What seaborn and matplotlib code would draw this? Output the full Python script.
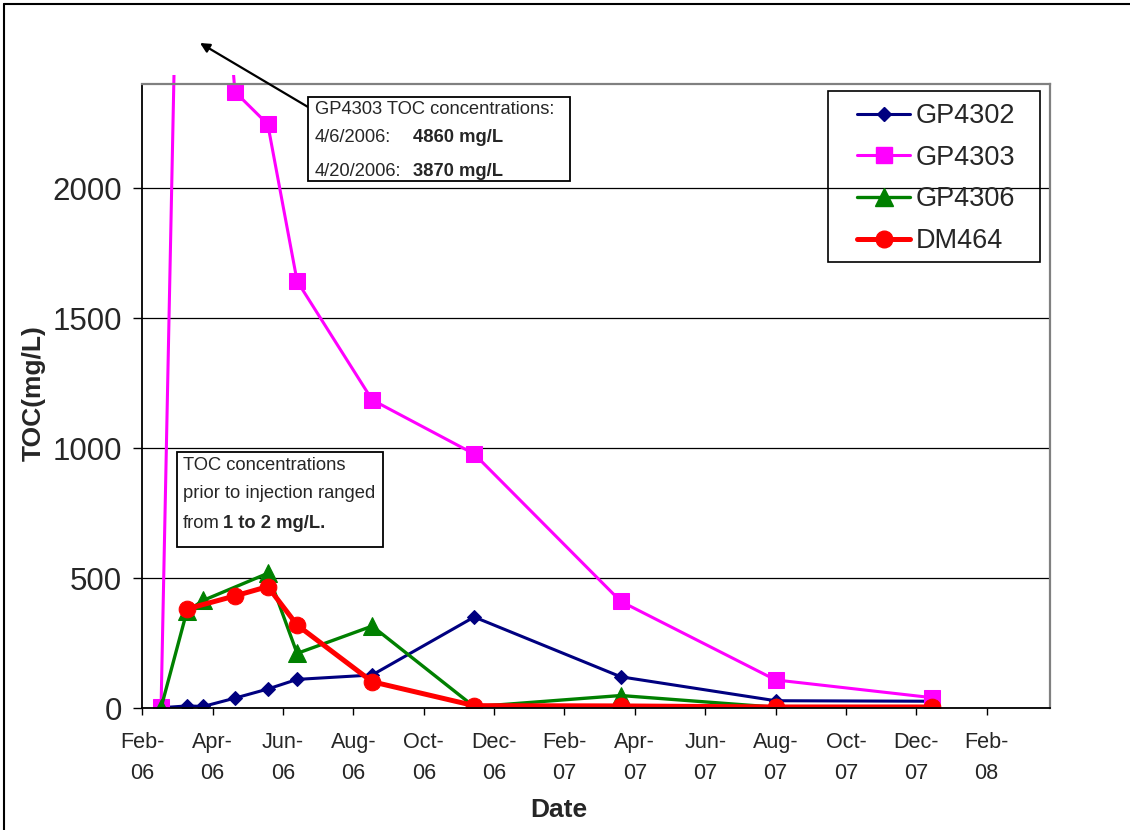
import numpy as np
import pandas as pd
import matplotlib
matplotlib.use("Agg")
import matplotlib.pyplot as plt
import matplotlib.dates as mdates
import seaborn as sns
from matplotlib.lines import Line2D
from matplotlib.patches import Rectangle
from matplotlib.transforms import Bbox, TransformedBbox

# ---------------- data ----------------
gp4302_dates = ["2006-03-15", "2006-04-06", "2006-04-20", "2006-05-17", "2006-06-14",
                "2006-07-09", "2006-09-11", "2006-12-07", "2007-04-11", "2007-08-21", "2008-01-01"]
gp4302_toc = [1, 8, 6, 38, 73, 110, 127, 350, 120, 28, 26]

gp4303_dates = ["2006-03-15", "2006-04-06", "2006-04-20", "2006-05-17", "2006-06-14",
                "2006-07-09", "2006-09-11", "2006-12-07", "2007-04-11", "2007-08-21", "2008-01-01"]
gp4303_toc = [2, 4860, 3870, 2370, 2245, 1642, 1185, 977, 410, 108, 40]

gp4306_dates = ["2006-03-15", "2006-04-06", "2006-04-20", "2006-06-14", "2006-07-09",
                "2006-09-11", "2006-12-07", "2007-04-11", "2007-08-21", "2008-01-01"]
gp4306_toc = [1, 372, 414, 518, 210, 315, 5, 48, 3, 1]

dm464_dates = ["2006-04-06", "2006-05-17", "2006-06-14", "2006-07-09", "2006-09-11",
               "2006-12-07", "2007-04-11", "2007-08-21", "2008-01-01"]
dm464_toc = [381, 431, 467, 319, 101, 9, 8, 4, 4]

series_names = ["GP4302", "GP4303", "GP4306", "DM464"]
x_start = "2006-02-27"
x_tick_step_days = 60
x_tick_count = 13
x_span_days = 774
y_max = 2400
y_ticks = [0, 500, 1000, 1500, 2000]

# ---------------- style ----------------
W, H = 1130, 830
sns.set_theme(style="white")
plt.rcParams["font.family"] = ["Liberation Sans", "DejaVu Sans"]

def fx(px):
    return px / W

def fy(py):
    return 1 - py / H

fig = plt.figure(figsize=(W / 100, H / 100), dpi=100)
ax = fig.add_axes([fx(142.3), fy(708), fx(1050) - fx(142.3), fy(84) - fy(708)])

styles = {
    "GP4302": dict(color="#000080", marker="D", markersize=7.2, linewidth=2.2),
    "GP4303": dict(color="#FF00FF", marker="s", markersize=11, linewidth=2.2),
    "GP4306": dict(color="#008000", marker="^", markersize=12.5, linewidth=2.4),
    "DM464": dict(color="#FF0000", marker="o", markersize=12, linewidth=3.6),
}
data = {
    "GP4302": (gp4302_dates, gp4302_toc),
    "GP4303": (gp4303_dates, gp4303_toc),
    "GP4306": (gp4306_dates, gp4306_toc),
    "DM464": (dm464_dates, dm464_toc),
}

handles = []
for name in series_names:
    d, v = data[name]
    df = pd.DataFrame({"date": pd.to_datetime(d), "toc": v})
    st = styles[name]
    sns.lineplot(data=df, x="date", y="toc", ax=ax, color=st["color"],
                 marker=st["marker"], markersize=st["markersize"],
                 markeredgecolor=st["color"], markerfacecolor=st["color"],
                 linewidth=st["linewidth"], legend=False, estimator=None)
    line = ax.lines[-1]
    if name == "GP4303":
        line.set_clip_path(None)
        line.set_clip_box(TransformedBbox(Bbox([[0, 0], [1, 1.0145]]), ax.transAxes))
    handles.append(Line2D([], [], color=st["color"], marker=st["marker"],
                          markersize=st["markersize"], markeredgecolor=st["color"],
                          linewidth=st["linewidth"]))

# axes
x0 = pd.Timestamp(x_start)
ticks = [x0 + pd.Timedelta(days=x_tick_step_days * k) for k in range(x_tick_count)]
ax.set_xlim(mdates.date2num(x0), mdates.date2num(x0 + pd.Timedelta(days=x_span_days)))
ax.set_xticks([mdates.date2num(t) for t in ticks])
ax.set_xticklabels([t.strftime("%b-\n%y") for t in ticks], fontsize=15.6, linespacing=1.65)
ax.set_ylim(0, y_max)
ax.set_yticks(y_ticks)
ax.set_yticklabels([str(t) for t in y_ticks], fontsize=22.5)

ax.yaxis.grid(True, color="black", linewidth=0.9)
ax.xaxis.grid(False)
ax.set_axisbelow(True)
for s in ["left", "bottom"]:
    ax.spines[s].set_color("black")
    ax.spines[s].set_linewidth(1.3)
for s in ["top", "right"]:
    ax.spines[s].set_color("#808080")
    ax.spines[s].set_linewidth(1.6)
ax.tick_params(axis="y", direction="out", length=6.5, width=1, color="black", pad=8, left=True)
ax.tick_params(axis="x", direction="out", length=5, width=1, color="black", pad=12, bottom=True)

ax.set_xlabel("Date", fontsize=19, fontweight="bold")
ax.xaxis.set_label_coords(0.459, -0.1445)
ax.set_ylabel("TOC(mg/L)", fontsize=19, fontweight="bold")
ax.yaxis.set_label_coords(-0.1066, 0.504)

# legend
leg = ax.legend(handles, series_names, loc="upper left",
                bbox_to_anchor=(fx(857), fy(103)), bbox_transform=fig.transFigure,
                frameon=False, fontsize=19.5, handlelength=1.96, handletextpad=0.22,
                labelspacing=0.58, borderpad=0, borderaxespad=0)
fig.add_artist(Rectangle((fx(828), fy(262)), fx(1040) - fx(828), fy(91) - fy(262),
                         transform=fig.transFigure, facecolor="none", edgecolor="black", lw=1.2))

# annotation box 1
fig.add_artist(Rectangle((fx(308), fy(181)), fx(570) - fx(308), fy(97) - fy(181),
                         transform=fig.transFigure, facecolor="white", edgecolor="black", lw=1.3, zorder=5))
fig.text(fx(315), fy(110), "GP4303 TOC concentrations:", fontsize=13.2, va="center", zorder=6)
fig.text(fx(315), fy(137), "4/6/2006:", fontsize=13.2, va="center", zorder=6)
fig.text(fx(413), fy(137), "4860 mg/L", fontsize=13.2, fontweight="bold", va="center", zorder=6)
fig.text(fx(315), fy(171), "4/20/2006:", fontsize=13.2, va="center", zorder=6)
fig.text(fx(413), fy(171), "3870 mg/L", fontsize=13.2, fontweight="bold", va="center", zorder=6)
ax.annotate("", xy=(200, H - 43), xycoords="figure pixels",
            xytext=(308, H - 107), textcoords="figure pixels",
            arrowprops=dict(arrowstyle="-|>", color="black", lw=1.6, mutation_scale=14,
                            shrinkA=0, shrinkB=0), annotation_clip=False)

# annotation box 2
fig.add_artist(Rectangle((fx(177), fy(547)), fx(383) - fx(177), fy(452) - fy(547),
                         transform=fig.transFigure, facecolor="white", edgecolor="black", lw=1.3, zorder=5))
fig.text(fx(183), fy(465), "TOC concentrations", fontsize=13.2, va="center", zorder=6)
fig.text(fx(183), fy(493), "prior to injection ranged", fontsize=13.2, va="center", zorder=6)
fig.text(fx(183), fy(523), "from", fontsize=13.2, va="center", zorder=6)
fig.text(fx(223), fy(523), "1 to 2 mg/L.", fontsize=13.2, fontweight="bold", va="center", zorder=6)

# outer chart frame
fig.add_artist(Line2D([fx(4), 1], [fy(4), fy(4)], transform=fig.transFigure, color="black", lw=1.5))
fig.add_artist(Line2D([fx(4), fx(4)], [fy(4), 0], transform=fig.transFigure, color="black", lw=1.5))

fig.savefig("out.png", dpi=100)
